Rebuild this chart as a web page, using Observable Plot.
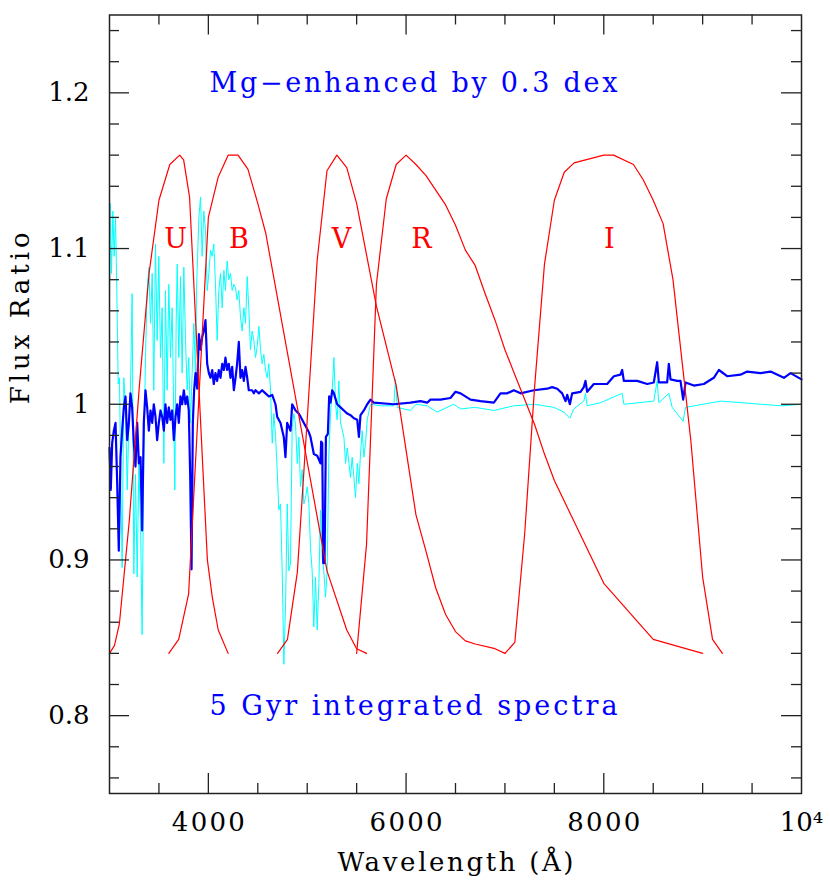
<!DOCTYPE html>
<html>
<head>
<meta charset="utf-8">
<script src="https://cdn.jsdelivr.net/npm/d3@7"></script>
<script src="https://cdn.jsdelivr.net/npm/@observablehq/plot@0.6"></script>
<style>
  html, body { margin: 0; padding: 0; background: #fff; }
</style>
</head>
<body>
<div id="chart"></div>
<script>
// ---------- DATA ----------
// Solar-scaled ratio spectrum (cyan, thin)
const cyanSpectrum = [
[3000,1.067],[3007,1.129],[3020,1.084],[3034,1.124],[3047,1.095],[3061,1.120],[3074,1.073],[3088,1.013],
[3101,1.017],[3115,0.945],[3128,0.895],[3145,1.017],[3162,0.998],[3179,0.945],[3196,0.988],[3212,1.009],
[3229,1.071],[3246,0.891],[3263,0.955],[3280,0.889],[3297,0.962],[3314,0.923],[3330,0.852],[3347,0.966],
[3364,1.030],[3381,1.073],[3398,1.088],[3415,1.052],[3432,1.084],[3448,1.009],[3465,1.103],[3482,1.041],
[3499,1.095],[3516,1.030],[3533,1.062],[3550,0.962],[3566,1.073],[3583,1.009],[3600,1.077],[3617,1.030],
[3634,1.062],[3651,0.988],[3661,0.945],[3674,1.052],[3685,1.090],[3701,1.030],[3718,1.082],[3735,1.020],
[3752,1.088],[3769,1.041],[3786,1.009],[3802,1.030],[3819,0.988],[3836,1.020],[3853,1.052],[3870,1.020],
[3880,1.073],[3904,1.120],[3921,1.133],[3937,1.095],[3954,1.124],[3971,1.112],[3988,1.073],[4005,1.084],
[4022,1.099],[4039,1.095],[4055,1.103],[4072,1.077],[4089,1.041],[4106,1.073],[4123,1.084],[4140,1.062],
[4157,1.086],[4173,1.073],[4190,1.092],[4207,1.080],[4224,1.084],[4241,1.073],[4258,1.077],[4275,1.075],
[4291,1.067],[4308,1.073],[4325,1.056],[4342,1.047],[4359,1.062],[4376,1.052],[4393,1.082],[4409,1.062],
[4426,1.035],[4443,1.047],[4460,1.041],[4477,1.030],[4494,1.037],[4511,1.050],[4528,1.035],[4544,1.026],
[4561,1.032],[4578,1.022],[4595,1.017],[4612,1.026],[4629,1.009],[4646,0.975],[4663,0.994],[4680,0.979],
[4696,0.958],[4713,0.932],[4730,0.936],[4747,0.893],[4764,0.833],[4781,0.872],[4798,0.936],[4814,0.893],
[4831,0.898],[4848,0.985],[4865,0.994],[4882,0.987],[4899,0.962],[4916,0.979],[4932,0.947],[4949,0.958],
[4966,0.936],[4983,0.940],[5000,0.947],[5017,0.936],[5033,0.908],[5050,0.893],[5067,0.857],[5084,0.889],
[5101,0.855],[5118,0.885],[5134,0.932],[5151,0.902],[5168,0.893],[5185,0.876],[5202,0.893],[5219,0.968],
[5236,0.994],[5253,1.009],[5270,1.030],[5287,1.000],[5303,0.990],[5320,1.015],[5337,0.988],[5371,0.979],
[5388,0.962],[5405,0.972],[5438,0.953],[5455,0.966],[5489,0.940],[5506,0.962],[5523,0.949],[5539,0.968],
[5556,0.983],[5573,0.966],[5590,0.975],[5607,0.990],[5640,1.000],[5741,0.999],[5876,0.999],[5893,1.016],
[5910,0.998],[6045,0.996],[6100,1.000],[6213,0.999],[6314,0.995],[6483,1.000],[6551,0.997],[6700,0.998],
[6888,0.996],[7090,0.999],[7300,1.000],[7495,0.998],[7596,0.995],[7657,0.991],[7697,0.997],[7798,1.002],
[7815,1.007],[7832,0.999],[7967,1.001],[8186,1.007],[8203,1.000],[8506,1.002],[8540,1.015],[8557,1.001],
[8658,1.007],[8692,0.998],[8803,0.989],[8827,0.998],[9181,1.002],[9400,1.001],[9585,1.000],[9800,0.999],
[10000,1.000]
];

// Mg-enhanced ratio spectrum (blue, thick)
const blueSpectrum = [
[3000,0.972],[3013,0.945],[3027,0.975],[3044,0.983],[3061,0.988],[3078,0.949],[3094,0.906],[3111,0.966],
[3128,0.983],[3145,0.998],[3162,1.005],[3179,0.977],[3196,0.988],[3212,1.007],[3229,0.998],[3246,0.975],
[3263,0.960],[3280,0.988],[3297,0.962],[3314,0.966],[3330,0.919],[3347,0.988],[3364,1.009],[3381,0.998],
[3398,0.983],[3415,0.996],[3432,0.988],[3448,1.000],[3465,0.992],[3482,0.977],[3499,0.988],[3516,0.996],
[3533,0.992],[3550,0.983],[3566,1.000],[3583,0.988],[3600,0.998],[3617,0.990],[3634,0.996],[3651,0.977],
[3668,0.992],[3685,1.000],[3701,0.988],[3718,1.005],[3735,1.000],[3752,1.009],[3769,1.000],[3786,1.005],
[3802,0.996],[3816,0.955],[3830,0.894],[3843,0.988],[3856,1.009],[3870,1.020],[3887,1.010],[3904,1.045],
[3921,1.035],[3937,1.043],[3954,1.047],[3971,1.054],[3988,1.026],[4005,1.020],[4022,1.017],[4039,1.022],
[4055,1.013],[4072,1.020],[4089,1.015],[4106,1.022],[4123,1.017],[4140,1.026],[4157,1.022],[4173,1.030],
[4190,1.022],[4207,1.026],[4224,1.017],[4241,1.024],[4258,1.009],[4275,1.017],[4291,1.026],[4308,1.040],
[4325,1.017],[4342,1.022],[4359,1.015],[4376,1.024],[4393,1.017],[4409,1.009],[4443,1.009],[4460,1.007],
[4477,1.009],[4511,1.007],[4544,1.009],[4578,1.007],[4612,1.005],[4646,1.006],[4679,1.000],[4696,0.992],
[4730,0.988],[4763,0.979],[4780,0.966],[4797,0.988],[4831,0.983],[4848,1.000],[4882,0.996],[4915,0.994],
[4949,0.990],[4983,0.986],[5017,0.982],[5033,0.979],[5067,0.968],[5101,0.967],[5134,0.962],[5141,0.976],
[5152,0.975],[5162,0.898],[5175,0.898],[5189,0.979],[5209,0.981],[5222,1.005],[5236,1.001],[5253,1.009],
[5270,1.007],[5303,1.000],[5337,0.998],[5371,0.996],[5405,0.994],[5438,0.993],[5472,0.991],[5506,0.990],
[5523,0.979],[5539,0.993],[5573,0.996],[5607,1.000],[5640,1.003],[5674,1.001],[5876,1.000],[6045,1.001],
[6146,1.002],[6213,1.001],[6247,1.003],[6348,1.003],[6449,1.004],[6500,1.008],[6551,1.007],[6652,1.003],
[6753,1.002],[6888,1.001],[6955,1.007],[7023,1.007],[7090,1.009],[7158,1.007],[7292,1.009],[7427,1.010],
[7478,1.011],[7529,1.010],[7579,1.007],[7613,1.002],[7630,1.006],[7657,1.000],[7680,1.007],[7765,1.008],
[7798,1.011],[7815,1.015],[7832,1.008],[7899,1.013],[8034,1.013],[8102,1.018],[8169,1.019],[8186,1.022],
[8203,1.015],[8338,1.015],[8439,1.013],[8506,1.014],[8540,1.027],[8557,1.014],[8641,1.014],[8658,1.026],
[8675,1.016],[8742,1.015],[8776,1.015],[8803,1.003],[8827,1.014],[8911,1.012],[9012,1.013],[9113,1.017],
[9164,1.022],[9248,1.018],[9383,1.019],[9450,1.021],[9585,1.020],[9687,1.021],[9822,1.017],[9889,1.020],
[10000,1.016]
];

// Broad-band filter response curves (drawn in the flux-ratio frame)
const filterU = [[3000,0.84],[3050,0.845],[3100,0.859],[3200,0.925],[3300,1.01],[3400,1.084],[3500,1.131],[3610,1.154],[3710,1.16],[3750,1.157],[3810,1.133],[3990,0.90],[4040,0.876],[4100,0.855],[4200,0.84]];
const filterB = [[3600,0.84],[3700,0.849],[3800,0.878],[4000,1.12],[4100,1.146],[4200,1.16],[4300,1.16],[4400,1.151],[4500,1.129],[4580,1.11],[5200,0.893],[5400,0.855],[5500,0.843],[5600,0.84]];
const filterV = [[4700,0.84],[4800,0.849],[4900,0.892],[5000,0.99],[5100,1.092],[5200,1.15],[5300,1.16],[5400,1.152],[5500,1.129],[5700,1.063],[5900,1.012],[6100,0.929],[6200,0.906],[6300,0.882],[6400,0.865],[6500,0.854],[6600,0.848],[6700,0.846],[6900,0.843],[7000,0.84]];
const filterR = [[5500,0.84],[5600,0.91],[5700,1.077],[5800,1.132],[5900,1.154],[6000,1.16],[6100,1.154],[6200,1.147],[6400,1.128],[6500,1.115],[6600,1.099],[6700,1.089],[6800,1.071],[6900,1.054],[7000,1.035],[7100,1.019],[7200,1.003],[7300,0.987],[7400,0.968],[7500,0.951],[8000,0.885],[8500,0.849],[9000,0.84]];
const filterI = [[7000,0.84],[7100,0.847],[7200,0.917],[7300,1.011],[7400,1.09],[7500,1.131],[7600,1.149],[7700,1.155],[8000,1.16],[8100,1.16],[8300,1.154],[8400,1.144],[8500,1.131],[8600,1.116],[8700,1.08],[8880,0.977],[9000,0.889],[9100,0.849],[9200,0.84]];

const filterNames = ["U", "B", "V", "R", "I"];
const filterLabelWave = [3668, 4308, 5347, 6156, 8055];
const filterLabelLevel = 1.106;

const annotationText = ["Mg\u2212enhanced by 0.3 dex", "5 Gyr integrated spectra"];
const annotationWave = [6075, 6075];
const annotationLevel = [1.2063, 0.8062];

const xDomain = [3000, 10000];
const yDomain = [0.75, 1.25];
const xMajor = [4000, 6000, 8000];
const xMinor = [3500, 4500, 5000, 5500, 6500, 7000, 7500, 8500, 9000, 9500];
const xTickLabels = [4000, 6000, 8000, 10000];
const yMajor = [0.8, 0.9, 1.0, 1.1, 1.2];
const yMinor = [0.76, 0.78, 0.82, 0.84, 0.86, 0.88, 0.92, 0.94, 0.96, 0.98, 1.02, 1.04, 1.06, 1.08, 1.12, 1.14, 1.16, 1.18, 1.22, 1.24];

// ---------- LAYOUT ----------
const W = 830, H = 880;
const mL = 109, mR = 29, mT = 14.5, mB = 87;
const innerW = W - mL - mR;
const innerH = H - mT - mB;
const majorLen = 20, minorLen = 10;
const axisColor = "#222";

const filterLabels = filterNames.map((n, i) => ({name: n, w: filterLabelWave[i], y: filterLabelLevel}));
const annotations = annotationText.map((t, i) => ({t, w: annotationWave[i], y: annotationLevel[i]}));

const svg = Plot.plot({
  width: W,
  height: H,
  marginLeft: mL, marginRight: mR, marginTop: mT, marginBottom: mB,
  x: {domain: xDomain},
  y: {domain: yDomain},
  style: {fontFamily: "'DejaVu Serif', serif", fontSize: "26px", color: "black", background: "white", overflow: "visible"},
  marks: [
    Plot.line(cyanSpectrum, {stroke: "#00ffff", strokeWidth: 1}),
    Plot.line(blueSpectrum, {stroke: "#0000ff", strokeWidth: 2.2}),
    Plot.line(filterU, {stroke: "#ff0000", strokeWidth: 1.2}),
    Plot.line(filterB, {stroke: "#ff0000", strokeWidth: 1.2}),
    Plot.line(filterV, {stroke: "#ff0000", strokeWidth: 1.2}),
    Plot.line(filterR, {stroke: "#ff0000", strokeWidth: 1.2}),
    Plot.line(filterI, {stroke: "#ff0000", strokeWidth: 1.2}),
    Plot.text(filterLabels, {x: "w", y: "y", text: "name", fill: "#ff0000", fontSize: 27, lineAnchor: "middle"}),
    Plot.text(annotations, {x: "w", y: "y", text: "t", fill: "#0000ff", fontSize: 27, lineAnchor: "middle"}),
    // inward ticks on all four sides
    Plot.tickX(xMajor, {x: d => d, stroke: axisColor, strokeWidth: 1.3, insetTop: innerH - majorLen}),
    Plot.tickX(xMajor, {x: d => d, stroke: axisColor, strokeWidth: 1.3, insetBottom: innerH - majorLen}),
    Plot.tickX(xMinor, {x: d => d, stroke: axisColor, strokeWidth: 1.3, insetTop: innerH - minorLen}),
    Plot.tickX(xMinor, {x: d => d, stroke: axisColor, strokeWidth: 1.3, insetBottom: innerH - minorLen}),
    Plot.tickY(yMajor, {y: d => d, stroke: axisColor, strokeWidth: 1.3, insetRight: innerW - majorLen}),
    Plot.tickY(yMajor, {y: d => d, stroke: axisColor, strokeWidth: 1.3, insetLeft: innerW - majorLen}),
    Plot.tickY(yMinor, {y: d => d, stroke: axisColor, strokeWidth: 1.3, insetRight: innerW - minorLen}),
    Plot.tickY(yMinor, {y: d => d, stroke: axisColor, strokeWidth: 1.3, insetLeft: innerW - minorLen}),
    Plot.frame({stroke: axisColor, strokeWidth: 1.5}),
    Plot.axisX({ticks: xTickLabels, tickSize: 0, tickPadding: 19, label: null,
      tickFormat: d => d === 10000 ? "10\u2074" : String(d)}),
    Plot.axisY({ticks: yMajor, tickSize: 0, tickPadding: 20, label: null,
      tickFormat: d => d === 1 ? "1" : d3.format(".1f")(d)}),
    Plot.text(["Wavelength (\u00c5)"], {frameAnchor: "bottom", dy: 77, lineAnchor: "bottom", fill: "black"}),
    Plot.text(["Flux Ratio"], {frameAnchor: "left", dx: -81, rotate: -90, lineAnchor: "bottom", fill: "black"})
  ]
});

const lengths = {
  "Mg\u2212enhanced by 0.3 dex": 408,
  "5 Gyr integrated spectra": 408,
  "Wavelength (\u00c5)": 236,
  "Flux Ratio": 172,
  "4000": 73, "6000": 73, "8000": 73
};
d3.select(svg).selectAll("text").each(function () {
  const L = lengths[this.textContent];
  if (L) {
    this.setAttribute("textLength", L);
    this.setAttribute("lengthAdjust", "spacing");
  }
});

document.getElementById("chart").appendChild(svg);
</script>
</body>
</html>
